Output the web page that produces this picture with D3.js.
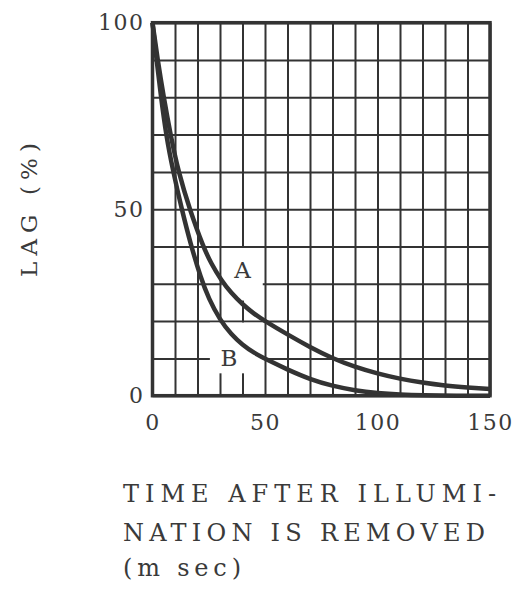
<!DOCTYPE html>
<html>
<head>
<meta charset="utf-8">
<script src="https://cdn.jsdelivr.net/npm/d3@7"></script>
<style>
  body { margin: 0; background: #fff; }
  text { font-family: "DejaVu Serif", serif; fill: #3a3a3a; }
</style>
</head>
<body>
<script>
// lag curves: [time ms, lag %]
var curveA = [[0,100],[2.3,90],[5,80],[8,70],[11.5,60],[16.5,50],[22.5,40],[26,35.5],[30.5,31],[35,27.5],
  [40,24.5],[45,22],[50,20],[60,16.4],[70,13],[80,10],[90,7.7],[100,5.9],[110,4.5],[120,3.5],[130,2.7],
  [140,2.2],[150,1.8]];
var curveB = [[0,100],[1.8,90],[3.8,80],[6,70],[9.2,60],[13,50],[17,40.5],[21.5,31.5],[25,26],[30,20.3],
  [35,16.4],[40,13.6],[45,11.5],[51,9.6],[60,7],[70,4.4],[80,2.6],[90,1.4],[100,0.7],[110,0.3],[120,0.1],
  [135,0],[150,0]];

var xTicks = [0, 50, 100, 150];
var yTicks = [0, 50, 100];
var xGrid = d3.range(0, 151, 10);
var yGrid = d3.range(0, 101, 10);

// curve names, and the blank bits of grid around them
var labels = [{ name: "A", t: 40, lag: 31.6 }, { name: "B", t: 34, lag: 8 }];
var gaps = [{ t0: 30.8, t1: 49, lag0: 25.5, lag1: 39.6 }, { t0: 25.5, t1: 49, lag0: 6, lag1: 19.6 }];

var titleLines = ["TIME AFTER ILLUMI-", "NATION IS REMOVED", "(m sec)"];

var width = 518, height = 595;
// (window.top is read-only, so not "top")
var plotLeft = 152.5, plotRight = 490, plotTop = 22.7, plotBottom = 395.7;
var ink = "#333";

var svg = d3.select("body")
  .append("svg")
    .attr("width", width)
    .attr("height", height);

var x = d3.scaleLinear().domain([0, 150]).range([plotLeft, plotRight]);
var y = d3.scaleLinear().domain([0, 100]).range([plotBottom, plotTop]);

// grid
var gx = svg.append("g")
  .attr("transform", "translate(0," + plotBottom + ")")
  .call(d3.axisBottom(x).tickValues(xGrid).tickSize(-(plotBottom - plotTop)).tickFormat(""));
var gy = svg.append("g")
  .attr("transform", "translate(" + plotLeft + ",0)")
  .call(d3.axisLeft(y).tickValues(yGrid).tickSize(-(plotRight - plotLeft)).tickFormat(""));
[gx, gy].forEach(function (g) {
  g.select(".domain").remove();
  g.selectAll(".tick line").attr("stroke", ink).attr("stroke-width", 2);
});

// white patches where the grid stops around A and B
svg.selectAll("rect.gap")
  .data(gaps)
  .enter()
  .append("rect")
    .attr("class", "gap")
    .attr("x", function (d) { return x(d.t0); })
    .attr("y", function (d) { return y(d.lag1); })
    .attr("width", function (d) { return x(d.t1) - x(d.t0); })
    .attr("height", function (d) { return y(d.lag0) - y(d.lag1); })
    .attr("fill", "#fff");

// frame
svg.append("rect")
  .attr("x", plotLeft)
  .attr("y", plotTop)
  .attr("width", plotRight - plotLeft)
  .attr("height", plotBottom - plotTop)
  .attr("fill", "none")
  .attr("stroke", ink)
  .attr("stroke-width", 3.5);

// curves
var line = d3.line()
  .x(function (d) { return x(d[0]); })
  .y(function (d) { return y(d[1]); })
  .curve(d3.curveBasis);

svg.selectAll("path.lag")
  .data([curveA, curveB])
  .enter()
  .append("path")
    .attr("class", "lag")
    .attr("d", line)
    .attr("fill", "none")
    .attr("stroke", ink)
    .attr("stroke-width", 4.5)
    .attr("stroke-linejoin", "round");

svg.selectAll("text.name")
  .data(labels)
  .enter()
  .append("text")
    .attr("class", "name")
    .attr("x", function (d) { return x(d.t); })
    .attr("y", function (d) { return y(d.lag); })
    .attr("text-anchor", "middle")
    .style("font-size", "23px")
    .text(function (d) { return d.name; });

// tick labels
var xAxis = svg.append("g")
  .attr("transform", "translate(0," + plotBottom + ")")
  .call(d3.axisBottom(x).tickValues(xTicks).tickSize(0).tickPadding(19));
var yAxis = svg.append("g")
  .attr("transform", "translate(" + (plotLeft - 8) + ",0)")
  .call(d3.axisLeft(y).tickValues(yTicks).tickSize(0).tickPadding(0));
[xAxis, yAxis].forEach(function (g) {
  g.select(".domain").remove();
  g.selectAll("text")
    .attr("fill", "#3a3a3a")
    .style("font-family", "DejaVu Serif, serif")
    .style("font-size", "22px")
    .style("letter-spacing", "1.5px");
});

// axis titles
svg.append("text")
  .attr("transform", "translate(37,210) rotate(-90)")
  .attr("text-anchor", "middle")
  .attr("textLength", 134)
  .attr("lengthAdjust", "spacing")
  .style("font-size", "23px")
  .text("LAG (%)");

var titleWidths = [373, 362, 118];
var titleBaselines = [502, 541, 576];
svg.selectAll("text.xtitle")
  .data(titleLines)
  .enter()
  .append("text")
    .attr("class", "xtitle")
    .attr("x", 123)
    .attr("y", function (d, i) { return titleBaselines[i]; })
    .attr("textLength", function (d, i) { return titleWidths[i]; })
    .attr("lengthAdjust", "spacing")
    .style("font-size", "24px")
    .text(function (d) { return d; });
</script>
</body>
</html>
